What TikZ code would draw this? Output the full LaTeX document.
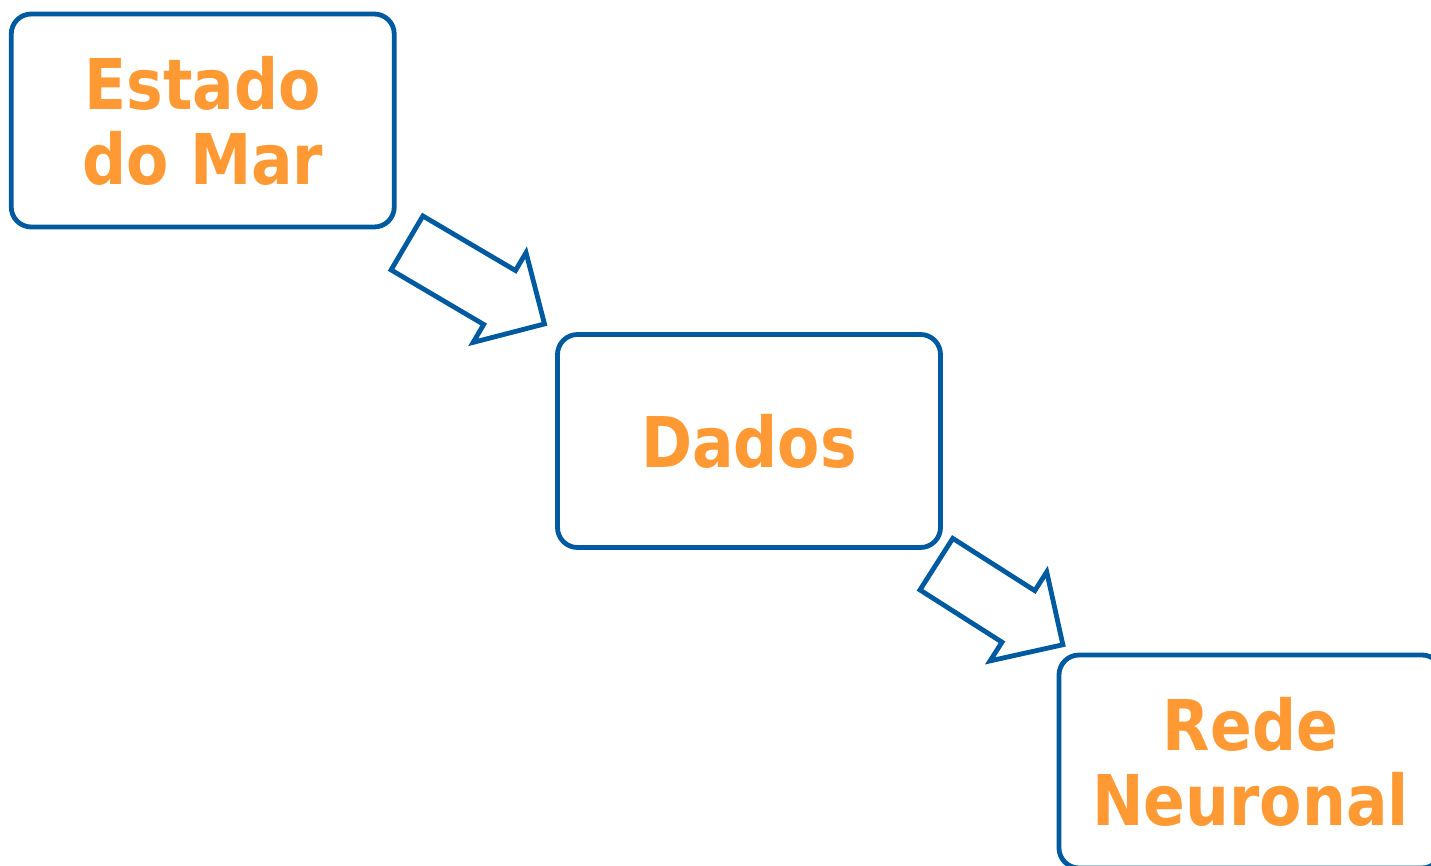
\documentclass[tikz,border=0pt]{standalone}
\usepackage{fontspec}
\setmainfont{DejaVu Sans}
\newfontfamily\labelfont[FakeStretch=0.88]{DejaVu Sans Bold}
\usetikzlibrary{shapes.arrows}
\definecolor{boxblue}{RGB}{0,90,160}
\definecolor{labelorange}{RGB}{255,153,51}
\tikzset{
  stagebox/.style={draw=boxblue, line width=2.4pt, rounded corners=10pt,
    minimum width=191.5pt, minimum height=106.5pt, inner sep=0pt,
    align=center, text=labelorange,
    font=\labelfont\fontsize{35pt}{37.5pt}\selectfont},
  flowarrow/.style={single arrow, draw=boxblue, line width=2.4pt, fill=white,
    inner xsep=0pt, minimum width=0pt, single arrow tip angle=90}
}
\begin{document}
\begin{tikzpicture}[x=0.5pt, y=-0.5pt]
  \useasboundingbox (0,0) rectangle (1431,866);
  \node[stagebox] (mar)   at (202.75,120.5) {Estado\\do Mar};
  \node[stagebox] (dados) at (749,441) {Dados};
  \node[stagebox] (rede)  at (1250.5,761.5) {Rede\\Neuronal};
  \node[flowarrow, inner ysep=14.45pt, single arrow head extend=10.4pt,
        minimum height=79.8pt, rotate=-30.5] (a1) at (462.25,275.5) {};
  \node[flowarrow, inner ysep=14.07pt, single arrow head extend=11.1pt,
        minimum height=75pt, rotate=-32.5] (a2) at (986.75,596.25) {};
\end{tikzpicture}
\end{document}
